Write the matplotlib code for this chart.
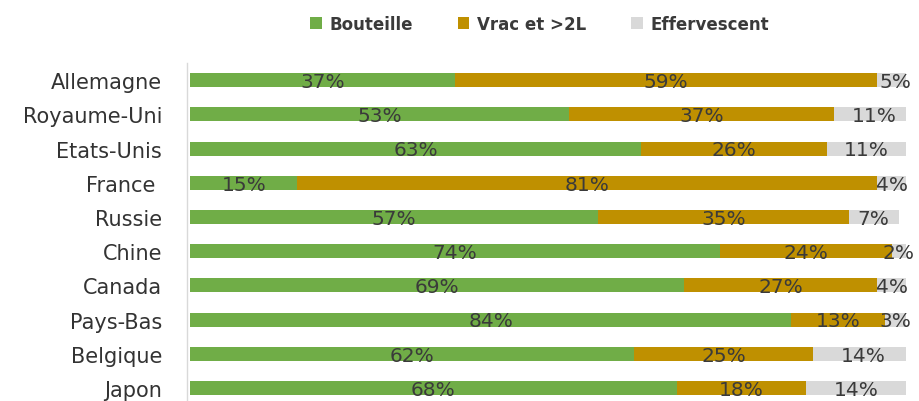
import numpy as np
import matplotlib
matplotlib.use('Agg')
import matplotlib.pyplot as plt

# data
pays = ['Allemagne', 'Royaume-Uni', 'Etats-Unis', 'France ', 'Russie',
        'Chine', 'Canada', 'Pays-Bas', 'Belgique', 'Japon']
bouteille = [37, 53, 63, 15, 57, 74, 69, 84, 62, 68]
vrac = [59, 37, 26, 81, 35, 24, 27, 13, 25, 18]
effervescent = [5, 11, 11, 4, 7, 2, 4, 3, 14, 14]

series = ['Bouteille', 'Vrac et >2L', 'Effervescent']
couleurs = ['#70AD47', '#BF9000', '#D9D9D9']
txt = '#3A3A3A'

plt.rcParams['font.family'] = ['DejaVu Sans']

fig = plt.figure(figsize=(9.19, 4.02), dpi=100)
ax = fig.add_axes([190/919, -0.0102, 716/919, 0.851])

y = np.arange(len(pays))
left = np.zeros(len(pays))
for vals, nom, c in zip([bouteille, vrac, effervescent], series, couleurs):
    vals = np.array(vals, dtype=float)
    ax.barh(y, vals, left=left, height=0.41, color=c, label=nom, zorder=2)
    for yi, l, v in zip(y, left, vals):
        ax.text(l + v/2, yi + 0.04, '%d%%' % v, ha='center', va='center',
                fontsize=14.5, color=txt, zorder=3)
    left = left + vals

ax.set_xlim(0, 100)
ax.set_ylim(len(pays) - 0.5, -0.5)
ax.set_yticks(y)
ax.set_yticklabels(pays)
ax.tick_params(axis='y', length=0, pad=18, labelsize=15, labelcolor='#333333')
ax.set_xticks([])
for s in ['top', 'right', 'bottom']:
    ax.spines[s].set_visible(False)
ax.spines['left'].set_color('#D9D9D9')
ax.spines['left'].set_linewidth(1)
ax.spines['left'].set_position(('outward', 2))

fig.legend(loc='center', bbox_to_anchor=(0.587, 0.938), ncol=3, frameon=False,
           prop={'size': 12, 'weight': 'bold'}, handlelength=0.7,
           handleheight=0.7, handletextpad=0.45, columnspacing=2.7,
           labelcolor='#3A3A3A')

fig.savefig('out.png', dpi=100)
